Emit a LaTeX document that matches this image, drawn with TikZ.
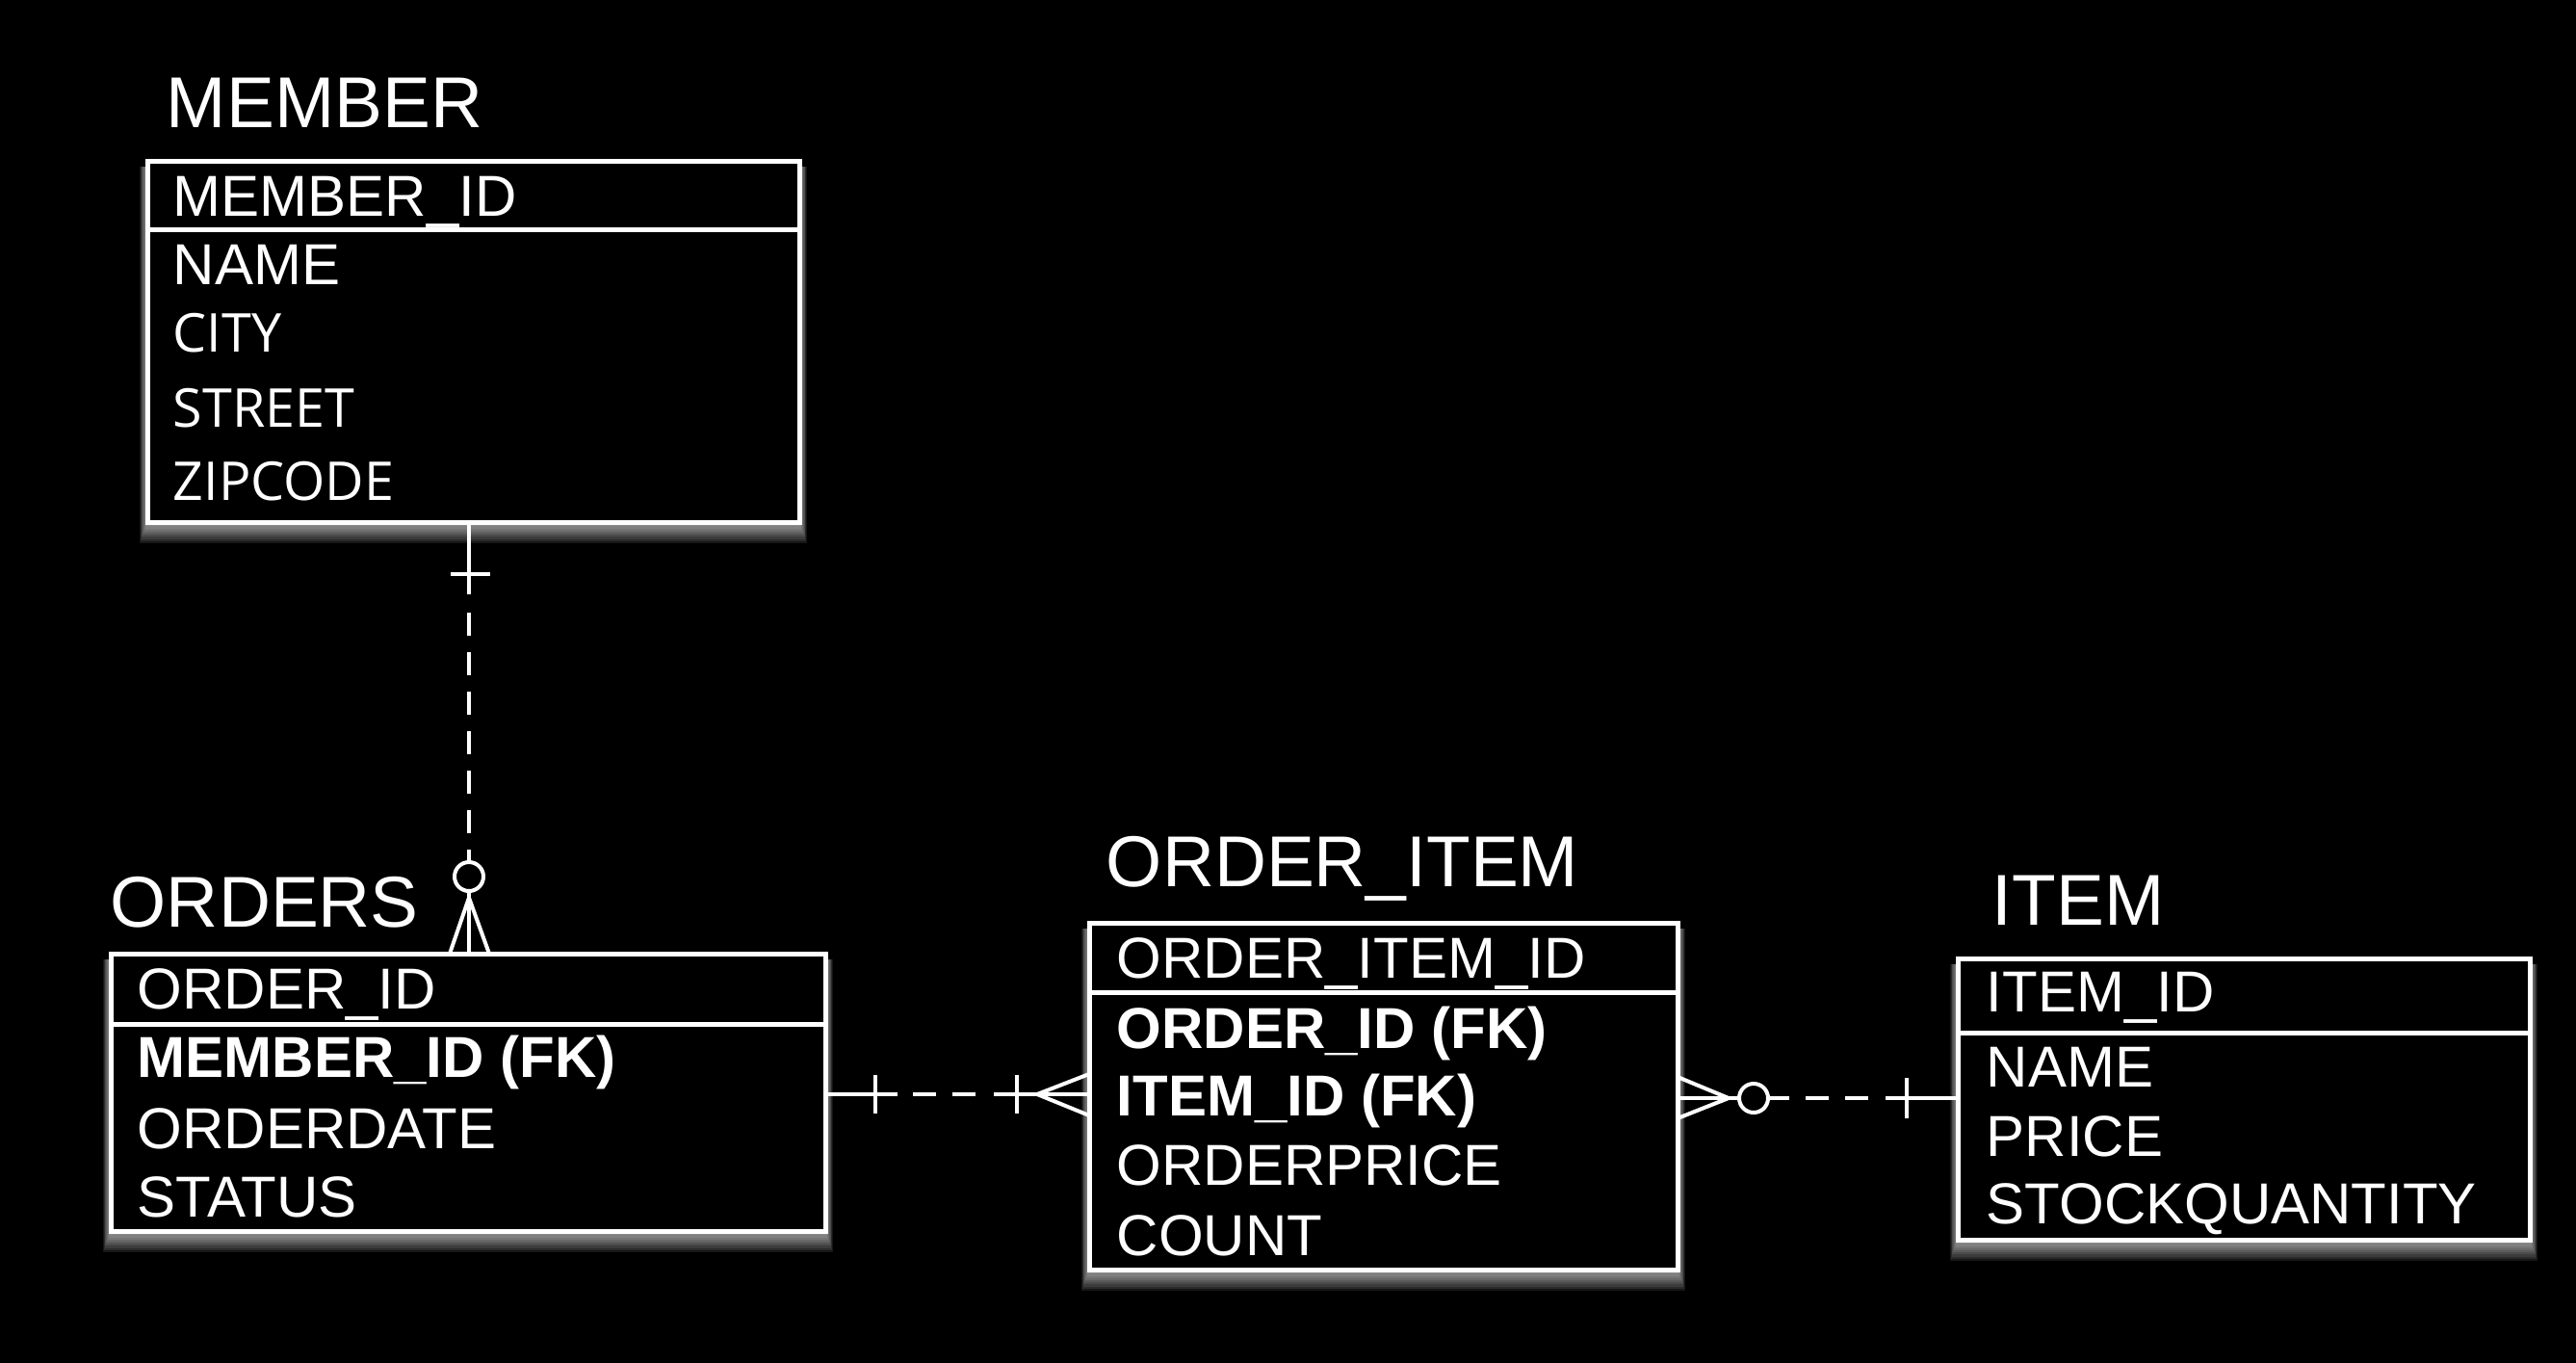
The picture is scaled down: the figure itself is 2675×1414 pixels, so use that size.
\documentclass[tikz,border=0pt]{standalone}
\usepackage{fontspec}
\setmainfont{Liberation Sans}
\newfontfamily\osans{Open Sans}
\usetikzlibrary{fit}
\tikzset{
  tbl/.style={draw=white, fill=black, line width=1.25pt, inner sep=0pt, outer sep=0pt, rectangle},
  sepline/.style={draw=white, line width=1.25pt},
  ttl/.style={text=white, inner sep=0pt, anchor=base west, font=\fontsize{18.7pt}{22pt}\selectfont},
  row/.style={text=white, inner sep=0pt, anchor=base west, font=\fontsize{15pt}{18pt}\selectfont},
  keyrow/.style={row, font=\fontsize{15pt}{18pt}\selectfont\bfseries},
  orow/.style={row, font=\fontsize{13.9pt}{16pt}\selectfont\osans},
  conn/.style={draw=white, line width=1pt},
  dsh/.style={conn, dash pattern=on 6pt off 4.25pt},
  glowlayer/.style={fill=white, opacity=0.085},
}
\newcommand{\myglowbox}[4]{%
  \foreach \i in {1,...,10}{\fill[glowlayer] (#1-\i*0.8,#2+6) rectangle (#3+\i*0.8,#4+\i*2.2);}%
}
\begin{document}
\begin{tikzpicture}[x=0.25pt, y=-0.25pt]
\useasboundingbox (0,0) rectangle (2675,1414);
\fill[black] (-20,-20) rectangle (2695,1434);

% glows
\myglowbox{153}{167}{830}{542}
\myglowbox{115}{990}{857}{1278}
\myglowbox{1131}{958}{1742}{1318}
\myglowbox{2033}{995}{2627}{1287}

% MEMBER
\node[ttl] (mtitle) at (172,132) {MEMBER};
\node[tbl, fit={(153,167) (830,542)}] (member) {};
\draw[sepline] (153,238) -- (830,238);
\node[row] (m1) at (179,224) {MEMBER\_ID};
\node[row] (m2) at (179,295) {NAME};
\node[orow] (m3) at (179,365) {CITY};
\node[orow] (m4) at (179,443) {STREET};
\node[orow] (m5) at (179,519) {ZIPCODE};

% ORDERS
\node[ttl] (otitle) at (114,962) {ORDERS};
\node[tbl, fit={(115,990) (857,1278)}] (orders) {};
\draw[sepline] (115,1063) -- (857,1063);
\node[row] (o1) at (142,1047) {ORDER\_ID};
\node[keyrow] (o2) at (142,1118) {MEMBER\_ID (FK)};
\node[row] (o3) at (142,1192) {ORDERDATE};
\node[row] (o4) at (142,1263) {STATUS};

% ORDER_ITEM
\node[ttl] (oititle) at (1148,920) {ORDER\_ITEM};
\node[tbl, fit={(1131,958) (1742,1318)}] (orderitem) {};
\draw[sepline] (1131,1030) -- (1742,1030);
\node[row] (oi1) at (1159,1015) {ORDER\_ITEM\_ID};
\node[keyrow] (oi2) at (1159,1088) {ORDER\_ID (FK)};
\node[keyrow] (oi3) at (1159,1158) {ITEM\_ID (FK)};
\node[row] (oi4) at (1159,1230) {ORDERPRICE};
\node[row] (oi5) at (1159,1303) {COUNT};

% ITEM
\node[ttl] (ititle) at (2068,960) {ITEM};
\node[tbl, fit={(2033,995) (2627,1287)}] (item) {};
\draw[sepline] (2033,1072) -- (2627,1072);
\node[row] (i1) at (2062,1050) {ITEM\_ID};
\node[row] (i2) at (2062,1128) {NAME};
\node[row] (i3) at (2062,1200) {PRICE};
\node[row] (i4) at (2062,1270) {STOCKQUANTITY};

% MEMBER -- ORDERS
\coordinate (mo1) at (487,542);
\coordinate (mo2) at (487,990);
\draw[conn] (mo1) -- (487,617);
\draw[conn] (468,596) -- (509,596);
\draw[dsh] (487,636) -- (487,866);
\draw[conn] (487,882) -- (487,895);
\draw[conn] (487,910) circle[radius=15];
\draw[conn] (487,925) -- (mo2);
\draw[conn] (467,990) -- (487,932) -- (508,990);

% ORDERS -- ORDER_ITEM
\coordinate (oo1) at (857,1136);
\coordinate (oo2) at (1131,1136);
\draw[conn] (oo1) -- (932,1136);
\draw[conn] (909,1116) -- (909,1156);
\draw[dsh] (948,1136) -- (1014,1136);
\draw[conn] (1032,1136) -- (oo2);
\draw[conn] (1056,1116) -- (1056,1156);
\draw[conn] (1131,1115) -- (1077,1136) -- (1131,1158);

% ORDER_ITEM -- ITEM
\coordinate (oi1c) at (1742,1140);
\coordinate (it1c) at (2033,1140);
\draw[conn] (1742,1118) -- (1795,1140) -- (1742,1161);
\draw[conn] (oi1c) -- (1806,1140);
\draw[conn] (1821,1140) circle[radius=15];
\draw[conn] (1836,1140) -- (1858,1140);
\draw[dsh] (1875,1140) -- (1942,1140);
\draw[conn] (1958,1140) -- (it1c);
\draw[conn] (1980,1119) -- (1980,1161);
\end{tikzpicture}
\end{document}
